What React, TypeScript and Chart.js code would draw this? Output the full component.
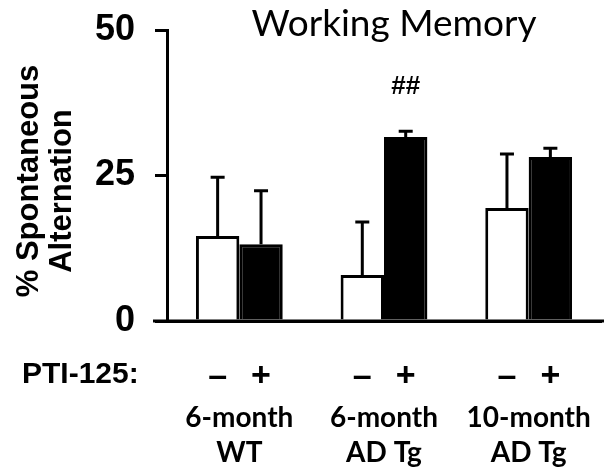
import React, { useEffect, useRef } from "react";
import { Chart, registerables } from "chart.js";

Chart.register(...registerables);

// ---- data ----
const groupLabels = [
  ["6-month", "WT"],
  ["6-month", "AD Tg"],
  ["10-month", "AD Tg"],
];
const vehicleMeans = [14.6, 7.9, 19.4];
const vehicleSem = [10.1, 9.1, 9.3];
const ptiMeans = [13.2, 31.6, 28.2];
const ptiSem = [9.2, 1.0, 1.5];
const treatmentSigns = ["–", "+"];
const ptiSignificance = ["", "##", ""];
const yTickValues = [0, 25, 50];
const chartTitle = "Working Memory";
const yTitleLines = ["% Spontaneous", "Alternation"];
const treatmentLabel = "PTI-125:";

const ARIAL = "'Liberation Sans', Arial, sans-serif";
const CAL = "Lato, 'Open Sans', sans-serif";

const overlayPlugin = {
  id: "overlay",
  beforeDraw(chart: any) {
    const ctx = chart.ctx;
    ctx.save();
    ctx.fillStyle = "#fff";
    ctx.fillRect(0, 0, chart.width, chart.height);
    ctx.restore();
  },
  afterDatasetsDraw(chart: any) {
    const ctx = chart.ctx;
    const { left, right } = chart.chartArea;
    const yScale = chart.scales.y;
    const xScale = chart.scales.x;
    const sems = [vehicleSem, ptiSem];
    ctx.save();
    ctx.strokeStyle = "#000";
    ctx.fillStyle = "#000";
    ctx.lineWidth = 3;
    ctx.lineCap = "butt";

    chart.data.datasets.forEach((ds: any, di: number) => {
      const meta = chart.getDatasetMeta(di);
      meta.data.forEach((bar: any, i: number) => {
        const v = ds.data[i];
        const base = yScale.getPixelForValue(v);
        const top = yScale.getPixelForValue(v + sems[di][i]);
        ctx.beginPath();
        ctx.moveTo(bar.x, base);
        ctx.lineTo(bar.x, top);
        ctx.moveTo(bar.x - 7, top);
        ctx.lineTo(bar.x + 7, top);
        ctx.stroke();

        if (di === 1 && ptiSignificance[i]) {
          ctx.font = `bold 26px ${ARIAL}`;
          ctx.textAlign = "center";
          ctx.textBaseline = "middle";
          ctx.fillText(ptiSignificance[i], bar.x, top - 44);
        }

        ctx.font = `bold 34px ${ARIAL}`;
        ctx.textAlign = "center";
        ctx.textBaseline = "middle";
        ctx.fillText(treatmentSigns[di], bar.x, 377);
      });
    });

    // x axis line drawn over the bar bottoms
    const y0 = yScale.getPixelForValue(0);
    ctx.beginPath();
    ctx.moveTo(left - 14, y0);
    ctx.lineTo(right + 3, y0);
    ctx.stroke();

    // group labels
    ctx.font = `bold 28px ${CAL}`;
    ctx.textAlign = "center";
    ctx.textBaseline = "alphabetic";
    groupLabels.forEach((lines, i) => {
      const x = xScale.getPixelForValue(i);
      lines.forEach((line, k) => {
        ctx.fillText(line, x, 427 + k * 35);
      });
    });

    // PTI-125 label
    ctx.font = `bold 30px ${ARIAL}`;
    ctx.textAlign = "left";
    ctx.textBaseline = "middle";
    ctx.fillText(treatmentLabel, 22, 375);

    // title
    ctx.font = `37px ${CAL}`;
    ctx.textAlign = "center";
    ctx.textBaseline = "alphabetic";
    ctx.fillText(chartTitle, 394, 36);

    // y axis title
    ctx.font = `bold 31px ${ARIAL}`;
    ctx.textAlign = "center";
    ctx.textBaseline = "alphabetic";
    const pos = [
      [38, 181],
      [71, 191],
    ];
    yTitleLines.forEach((line, k) => {
      ctx.save();
      ctx.translate(pos[k][0], pos[k][1]);
      ctx.rotate(-Math.PI / 2);
      ctx.fillText(line, 0, 0);
      ctx.restore();
    });
    ctx.restore();
  },
};

export default function App() {
  const ref = useRef<HTMLCanvasElement | null>(null);

  useEffect(() => {
    if (!ref.current) return;
    const chart = new Chart(ref.current, {
      type: "bar",
      data: {
        labels: groupLabels,
        datasets: [
          {
            label: "PTI-125 –",
            data: vehicleMeans,
            backgroundColor: "#ffffff",
            borderColor: "#000000",
            borderWidth: 3,
            categoryPercentage: 0.6,
            barPercentage: 1.0,
          },
          {
            label: "PTI-125 +",
            data: ptiMeans,
            backgroundColor: "#000000",
            borderColor: "#000000",
            borderWidth: 3,
            categoryPercentage: 0.6,
            barPercentage: 1.0,
          },
        ],
      },
      options: {
        responsive: false,
        animation: false,
        layout: { padding: { left: 0, right: 11, top: 30, bottom: 0 } },
        plugins: {
          legend: { display: false },
          tooltip: { enabled: false },
          title: { display: false },
        },
        scales: {
          x: {
            grid: { display: false, drawTicks: false },
            border: { display: true, color: "#000", width: 3 },
            ticks: { display: false },
            afterFit: (scale: any) => {
              scale.height = 154;
            },
          },
          y: {
            min: 0,
            max: 50,
            afterBuildTicks: (scale: any) => {
              scale.ticks = yTickValues.map((v) => ({ value: v }));
            },
            grid: {
              display: true,
              drawOnChartArea: false,
              drawTicks: true,
              tickLength: 12,
              color: "#000",
              lineWidth: 3,
            },
            border: { display: true, color: "#000", width: 3 },
            ticks: {
              color: "#000",
              font: { family: ARIAL, size: 36, weight: "bold", lineHeight: 0.5 },
              padding: 20,
            },
            afterFit: (scale: any) => {
              scale.width = 167;
            },
          },
        },
      },
      plugins: [overlayPlugin],
    } as any);
    return () => chart.destroy();
  }, []);

  return (
    <div
      style={{
        position: "fixed",
        left: 0,
        top: 0,
        width: 612,
        height: 475,
        background: "#fff",
      }}
    >
      <canvas ref={ref} width={612} height={475} style={{ display: "block" }} />
    </div>
  );
}
